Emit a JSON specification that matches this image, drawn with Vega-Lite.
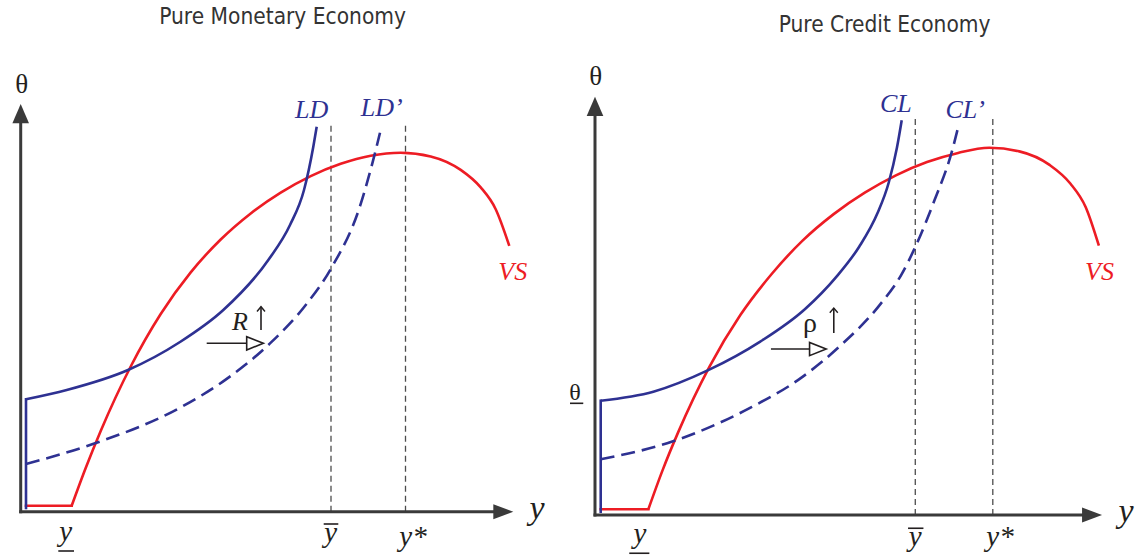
{
  "$schema": "https://vega.github.io/schema/vega-lite/v6.json",
  "padding": 0,
  "spacing": 0,
  "background": "#ffffff",
  "config": {"view": {"stroke": null}},
  "datasets": {
    "guides": [
      {"panel": "L", "x": 31.03, "y": 0, "y2": 38.84},
      {"panel": "L", "x": 38.48, "y": 0, "y2": 38.9},
      {"panel": "R", "x": 31.4, "y": 0, "y2": 38.9},
      {"panel": "R", "x": 39.0, "y": 0, "y2": 39.05}
    ],
    "axes": [
      {"panel": "L", "x": 0, "y": 0, "x2": 0, "y2": 39.2},
      {"panel": "L", "x": 0, "y": 0, "x2": 47.6, "y2": 0},
      {"panel": "R", "x": 0, "y": 0, "x2": 0, "y2": 39.3},
      {"panel": "R", "x": 0, "y": 0, "x2": 48.1, "y2": 0}
    ],
    "heads": [
      {"panel": "L", "dir": "up", "x": 0, "y": 39.8},
      {"panel": "L", "dir": "right", "x": 48.26, "y": 0},
      {"panel": "R", "dir": "up", "x": 0, "y": 40.06},
      {"panel": "R", "dir": "right", "x": 48.73, "y": 0}
    ],
    "segs": [
      {"panel": "L", "kind": "supply", "x": 0.53, "y": 0.6, "x2": 5.1, "y2": 0.6},
      {"panel": "L", "kind": "demand", "x": 0.53, "y": 0.37, "x2": 0.53, "y2": 11.24},
      {"panel": "R", "kind": "supply", "x": 0.56, "y": 0.56, "x2": 5.23, "y2": 0.56},
      {"panel": "R", "kind": "demand", "x": 0.56, "y": 0.32, "x2": 0.56, "y2": 11.2}
    ],
    "curves": [
      {"panel": "L", "curve": "VS", "x": 5.1, "y": 0.6},
      {"panel": "L", "curve": "VS", "x": 6.5, "y": 4.37},
      {"panel": "L", "curve": "VS", "x": 8.0, "y": 8.07},
      {"panel": "L", "curve": "VS", "x": 11.0, "y": 14.52},
      {"panel": "L", "curve": "VS", "x": 14.0, "y": 19.77},
      {"panel": "L", "curve": "VS", "x": 17.0, "y": 23.93},
      {"panel": "L", "curve": "VS", "x": 20.0, "y": 27.22},
      {"panel": "L", "curve": "VS", "x": 23.0, "y": 29.83},
      {"panel": "L", "curve": "VS", "x": 26.0, "y": 31.91},
      {"panel": "L", "curve": "VS", "x": 29.0, "y": 33.56},
      {"panel": "L", "curve": "VS", "x": 32.0, "y": 34.79},
      {"panel": "L", "curve": "VS", "x": 35.0, "y": 35.6},
      {"panel": "L", "curve": "VS", "x": 38.0, "y": 35.9},
      {"panel": "L", "curve": "VS", "x": 41.0, "y": 35.53},
      {"panel": "L", "curve": "VS", "x": 44.0, "y": 34.18},
      {"panel": "L", "curve": "VS", "x": 46.0, "y": 32.43},
      {"panel": "L", "curve": "VS", "x": 47.5, "y": 30.25},
      {"panel": "L", "curve": "VS", "x": 48.86, "y": 26.58},
      {"panel": "L", "curve": "LD", "x": 0.53, "y": 11.24},
      {"panel": "L", "curve": "LD", "x": 4.6, "y": 12.17},
      {"panel": "L", "curve": "LD", "x": 10.73, "y": 14.17},
      {"panel": "L", "curve": "LD", "x": 15.93, "y": 16.97},
      {"panel": "L", "curve": "LD", "x": 20.26, "y": 20.17},
      {"panel": "L", "curve": "LD", "x": 24.76, "y": 25.17},
      {"panel": "L", "curve": "LD", "x": 26.93, "y": 28.67},
      {"panel": "L", "curve": "LD", "x": 28.33, "y": 32.17},
      {"panel": "L", "curve": "LD", "x": 29.26, "y": 36.5},
      {"panel": "L", "curve": "LD", "x": 29.6, "y": 38.5},
      {"panel": "L", "curve": "LD2", "x": 0.53, "y": 4.77},
      {"panel": "L", "curve": "LD2", "x": 7.43, "y": 6.84},
      {"panel": "L", "curve": "LD2", "x": 16.03, "y": 10.45},
      {"panel": "L", "curve": "LD2", "x": 20.6, "y": 13.28},
      {"panel": "L", "curve": "LD2", "x": 24.93, "y": 16.83},
      {"panel": "L", "curve": "LD2", "x": 28.6, "y": 20.79},
      {"panel": "L", "curve": "LD2", "x": 31.03, "y": 24.31},
      {"panel": "L", "curve": "LD2", "x": 33.93, "y": 30.55},
      {"panel": "L", "curve": "LD2", "x": 35.26, "y": 35.21},
      {"panel": "L", "curve": "LD2", "x": 35.93, "y": 37.89},
      {"panel": "R", "curve": "VS", "x": 5.23, "y": 0.56},
      {"panel": "R", "curve": "VS", "x": 6.63, "y": 4.4},
      {"panel": "R", "curve": "VS", "x": 8.15, "y": 8.1},
      {"panel": "R", "curve": "VS", "x": 11.2, "y": 14.5},
      {"panel": "R", "curve": "VS", "x": 14.25, "y": 19.6},
      {"panel": "R", "curve": "VS", "x": 17.3, "y": 23.6},
      {"panel": "R", "curve": "VS", "x": 20.35, "y": 26.9},
      {"panel": "R", "curve": "VS", "x": 23.4, "y": 29.5},
      {"panel": "R", "curve": "VS", "x": 26.45, "y": 31.6},
      {"panel": "R", "curve": "VS", "x": 29.5, "y": 33.3},
      {"panel": "R", "curve": "VS", "x": 32.55, "y": 34.6},
      {"panel": "R", "curve": "VS", "x": 35.6, "y": 35.5},
      {"panel": "R", "curve": "VS", "x": 38.65, "y": 36.0},
      {"panel": "R", "curve": "VS", "x": 41.6, "y": 35.65},
      {"panel": "R", "curve": "VS", "x": 44.6, "y": 34.3},
      {"panel": "R", "curve": "VS", "x": 46.6, "y": 32.5},
      {"panel": "R", "curve": "VS", "x": 48.1, "y": 30.2},
      {"panel": "R", "curve": "VS", "x": 49.4, "y": 26.4},
      {"panel": "R", "curve": "CL", "x": 0.56, "y": 11.2},
      {"panel": "R", "curve": "CL", "x": 5.72, "y": 12.09},
      {"panel": "R", "curve": "CL", "x": 11.1, "y": 14.2},
      {"panel": "R", "curve": "CL", "x": 16.2, "y": 17.0},
      {"panel": "R", "curve": "CL", "x": 20.6, "y": 20.2},
      {"panel": "R", "curve": "CL", "x": 23.7, "y": 23.4},
      {"panel": "R", "curve": "CL", "x": 25.9, "y": 26.3},
      {"panel": "R", "curve": "CL", "x": 27.7, "y": 29.6},
      {"panel": "R", "curve": "CL", "x": 28.8, "y": 32.6},
      {"panel": "R", "curve": "CL", "x": 29.6, "y": 36.0},
      {"panel": "R", "curve": "CL", "x": 30.07, "y": 38.7},
      {"panel": "R", "curve": "CL2", "x": 0.56, "y": 5.46},
      {"panel": "R", "curve": "CL2", "x": 7.58, "y": 7.2},
      {"panel": "R", "curve": "CL2", "x": 15.2, "y": 10.5},
      {"panel": "R", "curve": "CL2", "x": 20.0, "y": 13.3},
      {"panel": "R", "curve": "CL2", "x": 24.06, "y": 16.6},
      {"panel": "R", "curve": "CL2", "x": 28.0, "y": 20.7},
      {"panel": "R", "curve": "CL2", "x": 30.0, "y": 23.5},
      {"panel": "R", "curve": "CL2", "x": 31.5, "y": 26.5},
      {"panel": "R", "curve": "CL2", "x": 33.3, "y": 30.9},
      {"panel": "R", "curve": "CL2", "x": 34.95, "y": 35.5},
      {"panel": "R", "curve": "CL2", "x": 35.6, "y": 38.0}
    ],
    "strokes": [
      {"panel": "L", "x": 18.6, "y": 16.84, "x2": 22.7, "y2": 16.84},
      {"panel": "L", "x": 24.03, "y": 18.17, "x2": 24.03, "y2": 20.5},
      {"panel": "L", "x": 3.76, "y": -3.93, "x2": 5.33, "y2": -3.93},
      {"panel": "L", "x": 30.3, "y": -1.23, "x2": 31.76, "y2": -1.23},
      {"panel": "R", "x": 17.25, "y": 16.27, "x2": 21.1, "y2": 16.27},
      {"panel": "R", "x": 23.41, "y": 17.84, "x2": 23.41, "y2": 20.29},
      {"panel": "R", "x": 3.36, "y": -3.75, "x2": 5.33, "y2": -3.75},
      {"panel": "R", "x": -2.45, "y": 10.95, "x2": -1.15, "y2": 10.95},
      {"panel": "R", "x": 30.69, "y": -1.3, "x2": 32.2, "y2": -1.3}
    ],
    "hollow": [
      {"panel": "L", "x": 23.43, "y": 16.84},
      {"panel": "R", "x": 21.85, "y": 16.27}
    ],
    "chev": [
      {"panel": "L", "x": 24.03, "y": 20.26},
      {"panel": "R", "x": 23.41, "y": 20.06}
    ],
    "texts": [
      {"panel": "L", "role": "theta", "kind": "ink", "label": "θ", "x": 0.1, "y": 41.92},
      {"panel": "L", "role": "curve", "kind": "demand", "label": "LD", "x": 29.1, "y": 39.34},
      {"panel": "L", "role": "curve", "kind": "demand", "label": "LD’", "x": 36.1, "y": 39.57},
      {"panel": "L", "role": "curve", "kind": "supply", "label": "VS", "x": 49.2, "y": 23.17},
      {"panel": "L", "role": "axis", "kind": "ink", "label": "y", "x": 51.63, "y": -0.73},
      {"panel": "L", "role": "tick", "kind": "ink", "label": "y", "x": 4.51, "y": -2.93},
      {"panel": "L", "role": "tick", "kind": "ink", "label": "y", "x": 31.0, "y": -2.98},
      {"panel": "L", "role": "tick", "kind": "ink", "label": "y*", "x": 39.23, "y": -3.43},
      {"panel": "L", "role": "shift", "kind": "ink", "label": "R", "x": 21.93, "y": 18.17},
      {"panel": "R", "role": "theta", "kind": "ink", "label": "θ", "x": 0.08, "y": 42.16},
      {"panel": "R", "role": "thetalow", "kind": "ink", "label": "θ", "x": -1.96, "y": 11.27},
      {"panel": "R", "role": "curve", "kind": "demand", "label": "CL", "x": 29.5, "y": 39.54},
      {"panel": "R", "role": "curve", "kind": "demand", "label": "CL’", "x": 36.3, "y": 38.9},
      {"panel": "R", "role": "curve", "kind": "supply", "label": "VS", "x": 49.46, "y": 23.04},
      {"panel": "R", "role": "axis", "kind": "ink", "label": "y", "x": 52.06, "y": -0.69},
      {"panel": "R", "role": "tick", "kind": "ink", "label": "y", "x": 4.41, "y": -2.75},
      {"panel": "R", "role": "tick", "kind": "ink", "label": "y", "x": 31.4, "y": -3.04},
      {"panel": "R", "role": "tick", "kind": "ink", "label": "y*", "x": 39.7, "y": -3.04},
      {"panel": "R", "role": "rho", "kind": "ink", "label": "ρ", "x": 21.08, "y": 17.94}
    ],
    "titles": [
      {"panel": "L", "label": "Pure Monetary Economy", "x": 26.19, "y": 48.77},
      {"panel": "R", "label": "Pure Credit Economy", "x": 28.39, "y": 47.35}
    ]
  },
  "hconcat": [
    {
      "width": 560,
      "height": 560,
      "encoding": {
        "x": {"field": "x", "type": "quantitative", "scale": {"domain": [-2.07, 53.93], "nice": false, "zero": false}, "axis": null},
        "y": {"field": "y", "type": "quantitative", "scale": {"domain": [-4.83, 51.17], "nice": false, "zero": false}, "axis": null}
      },
      "layer": [
        {"data": {"name": "guides"}, "transform": [{"filter": "datum.panel === 'L'"}],
         "mark": {"type": "rule", "color": "#4d4d4d", "strokeWidth": 1.3, "strokeDash": [6, 4]},
         "encoding": {"y2": {"field": "y2"}}},
        {"data": {"name": "axes"}, "transform": [{"filter": "datum.panel === 'L'"}],
         "mark": {"type": "rule", "color": "#3a3a3a", "strokeWidth": 3, "strokeCap": "square"},
         "encoding": {"x2": {"field": "x2"}, "y2": {"field": "y2"}}},
        {"data": {"name": "heads"}, "transform": [{"filter": "datum.panel === 'L'"}],
         "mark": {"type": "point", "filled": true, "color": "#3a3a3a", "opacity": 1, "size": 400, "strokeWidth": 0},
         "encoding": {"shape": {"field": "dir", "type": "nominal", "scale": {"domain": ["up", "right"], "range": ["M0,-0.965L0.83,0.965L-0.83,0.965Z", "M1,0L-1,-0.75L-1,0.75Z"]}, "legend": null}}},
        {"data": {"name": "segs"}, "transform": [{"filter": "datum.panel === 'L'"}],
         "mark": {"type": "rule", "strokeWidth": 2.6, "strokeCap": "square"},
         "encoding": {"x2": {"field": "x2"}, "y2": {"field": "y2"},
           "color": {"field": "kind", "type": "nominal", "scale": {"domain": ["demand", "supply", "ink"], "range": ["#2e3192", "#ed1c24", "#231f20"]}, "legend": null}}},
        {"data": {"name": "curves"}, "transform": [{"filter": "datum.panel === 'L' && datum.curve === 'VS'"}],
         "mark": {"type": "line", "interpolate": "monotone", "color": "#ed1c24", "strokeWidth": 2.6}},
        {"data": {"name": "curves"}, "transform": [{"filter": "datum.panel === 'L' && datum.curve === 'LD'"}],
         "mark": {"type": "line", "interpolate": "monotone", "color": "#2e3192", "strokeWidth": 2.6}},
        {"data": {"name": "curves"}, "transform": [{"filter": "datum.panel === 'L' && datum.curve === 'LD2'"}],
         "mark": {"type": "line", "interpolate": "monotone", "color": "#2e3192", "strokeWidth": 2.6, "strokeDash": [14, 7]}},
        {"data": {"name": "strokes"}, "transform": [{"filter": "datum.panel === 'L'"}],
         "mark": {"type": "rule", "color": "#231f20", "strokeWidth": 1.6},
         "encoding": {"x2": {"field": "x2"}, "y2": {"field": "y2"}}},
        {"data": {"name": "hollow"}, "transform": [{"filter": "datum.panel === 'L'"}],
         "mark": {"type": "point", "filled": true, "fill": "#ffffff", "stroke": "#231f20", "strokeWidth": 1.6, "opacity": 1, "size": 276, "shape": "M1,0L-1,-0.8L-1,0.8Z"}},
        {"data": {"name": "chev"}, "transform": [{"filter": "datum.panel === 'L'"}],
         "mark": {"type": "point", "filled": false, "stroke": "#231f20", "strokeWidth": 1.4, "opacity": 1, "size": 64, "shape": "M-1,0.6L0,-0.6L1,0.6"}},
        {"data": {"name": "texts"}, "transform": [{"filter": "datum.panel === 'L' && datum.role === 'curve'"}],
         "mark": {"type": "text", "font": "Liberation Serif", "fontStyle": "italic", "fontSize": 26, "align": "center", "baseline": "alphabetic"},
         "encoding": {"text": {"field": "label"},
           "color": {"field": "kind", "type": "nominal", "scale": {"domain": ["demand", "supply", "ink"], "range": ["#2e3192", "#ed1c24", "#231f20"]}, "legend": null}}},
        {"data": {"name": "texts"}, "transform": [{"filter": "datum.panel === 'L' && datum.role === 'axis'"}],
         "mark": {"type": "text", "font": "Liberation Serif", "fontStyle": "italic", "fontSize": 34, "align": "center", "baseline": "alphabetic", "color": "#231f20"},
         "encoding": {"text": {"field": "label"}}},
        {"data": {"name": "texts"}, "transform": [{"filter": "datum.panel === 'L' && datum.role === 'tick'"}],
         "mark": {"type": "text", "font": "Liberation Serif", "fontStyle": "italic", "fontSize": 29, "align": "center", "baseline": "alphabetic", "color": "#231f20"},
         "encoding": {"text": {"field": "label"}}},
        {"data": {"name": "texts"}, "transform": [{"filter": "datum.panel === 'L' && datum.role === 'shift'"}],
         "mark": {"type": "text", "font": "Liberation Serif", "fontStyle": "italic", "fontSize": 26, "align": "center", "baseline": "alphabetic", "color": "#231f20"},
         "encoding": {"text": {"field": "label"}}},
        {"data": {"name": "texts"}, "transform": [{"filter": "datum.panel === 'L' && datum.role === 'theta'"}],
         "mark": {"type": "text", "font": "Liberation Serif", "fontSize": 27, "align": "center", "baseline": "alphabetic", "color": "#231f20"},
         "encoding": {"text": {"field": "label"}}},
        {"data": {"name": "titles"}, "transform": [{"filter": "datum.panel === 'L'"}],
         "mark": {"type": "text", "font": "DejaVu Sans Condensed, Liberation Sans", "fontSize": 22.5, "align": "center", "baseline": "alphabetic", "color": "#333333"},
         "encoding": {"text": {"field": "label"}}}
      ]
    },
    {
      "width": 580,
      "height": 560,
      "encoding": {
        "x": {"field": "x", "type": "quantitative", "scale": {"domain": [-3.431, 53.431], "nice": false, "zero": false}, "axis": null},
        "y": {"field": "y", "type": "quantitative", "scale": {"domain": [-4.412, 50.49], "nice": false, "zero": false}, "axis": null}
      },
      "layer": [
        {"data": {"name": "guides"}, "transform": [{"filter": "datum.panel === 'R'"}],
         "mark": {"type": "rule", "color": "#4d4d4d", "strokeWidth": 1.3, "strokeDash": [6, 4]},
         "encoding": {"y2": {"field": "y2"}}},
        {"data": {"name": "axes"}, "transform": [{"filter": "datum.panel === 'R'"}],
         "mark": {"type": "rule", "color": "#3a3a3a", "strokeWidth": 3, "strokeCap": "square"},
         "encoding": {"x2": {"field": "x2"}, "y2": {"field": "y2"}}},
        {"data": {"name": "heads"}, "transform": [{"filter": "datum.panel === 'R'"}],
         "mark": {"type": "point", "filled": true, "color": "#3a3a3a", "opacity": 1, "size": 400, "strokeWidth": 0},
         "encoding": {"shape": {"field": "dir", "type": "nominal", "scale": {"domain": ["up", "right"], "range": ["M0,-0.965L0.83,0.965L-0.83,0.965Z", "M1,0L-1,-0.75L-1,0.75Z"]}, "legend": null}}},
        {"data": {"name": "segs"}, "transform": [{"filter": "datum.panel === 'R'"}],
         "mark": {"type": "rule", "strokeWidth": 2.6, "strokeCap": "square"},
         "encoding": {"x2": {"field": "x2"}, "y2": {"field": "y2"},
           "color": {"field": "kind", "type": "nominal", "scale": {"domain": ["demand", "supply", "ink"], "range": ["#2e3192", "#ed1c24", "#231f20"]}, "legend": null}}},
        {"data": {"name": "curves"}, "transform": [{"filter": "datum.panel === 'R' && datum.curve === 'VS'"}],
         "mark": {"type": "line", "interpolate": "monotone", "color": "#ed1c24", "strokeWidth": 2.6}},
        {"data": {"name": "curves"}, "transform": [{"filter": "datum.panel === 'R' && datum.curve === 'CL'"}],
         "mark": {"type": "line", "interpolate": "monotone", "color": "#2e3192", "strokeWidth": 2.6}},
        {"data": {"name": "curves"}, "transform": [{"filter": "datum.panel === 'R' && datum.curve === 'CL2'"}],
         "mark": {"type": "line", "interpolate": "monotone", "color": "#2e3192", "strokeWidth": 2.6, "strokeDash": [14, 7]}},
        {"data": {"name": "strokes"}, "transform": [{"filter": "datum.panel === 'R'"}],
         "mark": {"type": "rule", "color": "#231f20", "strokeWidth": 1.6},
         "encoding": {"x2": {"field": "x2"}, "y2": {"field": "y2"}}},
        {"data": {"name": "hollow"}, "transform": [{"filter": "datum.panel === 'R'"}],
         "mark": {"type": "point", "filled": true, "fill": "#ffffff", "stroke": "#231f20", "strokeWidth": 1.6, "opacity": 1, "size": 276, "shape": "M1,0L-1,-0.8L-1,0.8Z"}},
        {"data": {"name": "chev"}, "transform": [{"filter": "datum.panel === 'R'"}],
         "mark": {"type": "point", "filled": false, "stroke": "#231f20", "strokeWidth": 1.4, "opacity": 1, "size": 64, "shape": "M-1,0.6L0,-0.6L1,0.6"}},
        {"data": {"name": "texts"}, "transform": [{"filter": "datum.panel === 'R' && datum.role === 'curve'"}],
         "mark": {"type": "text", "font": "Liberation Serif", "fontStyle": "italic", "fontSize": 26, "align": "center", "baseline": "alphabetic"},
         "encoding": {"text": {"field": "label"},
           "color": {"field": "kind", "type": "nominal", "scale": {"domain": ["demand", "supply", "ink"], "range": ["#2e3192", "#ed1c24", "#231f20"]}, "legend": null}}},
        {"data": {"name": "texts"}, "transform": [{"filter": "datum.panel === 'R' && datum.role === 'axis'"}],
         "mark": {"type": "text", "font": "Liberation Serif", "fontStyle": "italic", "fontSize": 34, "align": "center", "baseline": "alphabetic", "color": "#231f20"},
         "encoding": {"text": {"field": "label"}}},
        {"data": {"name": "texts"}, "transform": [{"filter": "datum.panel === 'R' && datum.role === 'tick'"}],
         "mark": {"type": "text", "font": "Liberation Serif", "fontStyle": "italic", "fontSize": 29, "align": "center", "baseline": "alphabetic", "color": "#231f20"},
         "encoding": {"text": {"field": "label"}}},
        {"data": {"name": "texts"}, "transform": [{"filter": "datum.panel === 'R' && datum.role === 'theta'"}],
         "mark": {"type": "text", "font": "Liberation Serif", "fontSize": 27, "align": "center", "baseline": "alphabetic", "color": "#231f20"},
         "encoding": {"text": {"field": "label"}}},
        {"data": {"name": "texts"}, "transform": [{"filter": "datum.panel === 'R' && datum.role === 'thetalow'"}],
         "mark": {"type": "text", "font": "Liberation Serif", "fontSize": 24, "align": "center", "baseline": "alphabetic", "color": "#231f20"},
         "encoding": {"text": {"field": "label"}}},
        {"data": {"name": "texts"}, "transform": [{"filter": "datum.panel === 'R' && datum.role === 'rho'"}],
         "mark": {"type": "text", "font": "Liberation Serif", "fontSize": 28, "align": "center", "baseline": "alphabetic", "color": "#231f20"},
         "encoding": {"text": {"field": "label"}}},
        {"data": {"name": "titles"}, "transform": [{"filter": "datum.panel === 'R'"}],
         "mark": {"type": "text", "font": "DejaVu Sans Condensed, Liberation Sans", "fontSize": 22.5, "align": "center", "baseline": "alphabetic", "color": "#333333"},
         "encoding": {"text": {"field": "label"}}}
      ]
    }
  ]
}
